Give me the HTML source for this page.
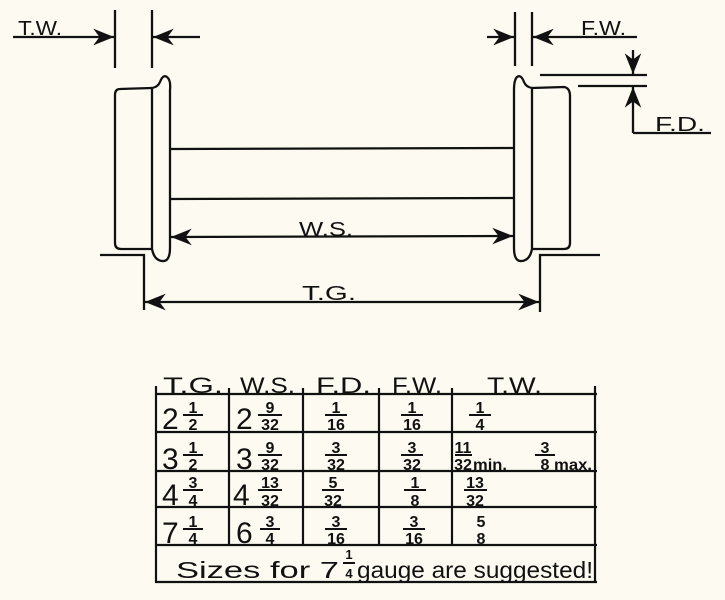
<!DOCTYPE html>
<html><head><meta charset="utf-8"><style>
html,body{margin:0;padding:0;background:#fdfbf1;}
svg{display:block}
text{font-family:"Liberation Sans",sans-serif;fill:#111}
</style></head><body>
<svg width="725" height="600" viewBox="0 0 725 600" xmlns="http://www.w3.org/2000/svg">
<defs>
<marker id="a" viewBox="0 0 10 10" refX="10" refY="5" markerWidth="9" markerHeight="9" orient="auto-start-reverse"><path d="M0,1 L10,5 L0,9 L3,5 Z" fill="#111"/></marker>
</defs>
<g stroke="#111" stroke-width="2.3" fill="none">
<path d="M152,88 L120,89 Q115,89 115,95 L115,243 Q115,249 121,249 L152,249"/>
<path d="M152,88 Q158,87 160,82 Q163,74 167,77 Q171,80 170,90 L170,248 Q170,262 162,261 Q154,260 152,249 Z"/>
<path d="M532,88 L564,87 Q570,88 570,96 L570,243 Q570,249 564,249 L532,249"/>
<path d="M532,88 Q526,87 524,82 Q521,74 517,77 Q514,80 514,90 L514,248 Q514,262 522,261 Q530,260 532,249 Z"/>
<line x1="170" y1="149" x2="514" y2="148"/>
<line x1="170" y1="199" x2="514" y2="198"/>
<line x1="115" y1="10" x2="115" y2="68"/>
<line x1="152" y1="10" x2="152" y2="68"/>
<line x1="13" y1="37" x2="114" y2="37" marker-end="url(#a)"/>
<line x1="200" y1="37" x2="153" y2="37" marker-end="url(#a)"/>
<line x1="515" y1="12" x2="515" y2="66"/>
<line x1="532" y1="12" x2="532" y2="66"/>
<line x1="487" y1="37" x2="514" y2="37" marker-end="url(#a)"/>
<line x1="637" y1="37" x2="533" y2="37" marker-end="url(#a)"/>
<line x1="540" y1="75" x2="647" y2="75"/>
<line x1="578" y1="86" x2="647" y2="86"/>
<line x1="633" y1="50" x2="633" y2="74" marker-end="url(#a)"/>
<line x1="633" y1="133" x2="633" y2="87" marker-end="url(#a)"/>
<line x1="633" y1="133" x2="711" y2="133"/>
<path d="M100,255 L144,255 L144,310"/>
<path d="M600,255 L540,255 L540,312"/>
<line x1="171" y1="237" x2="513" y2="236" marker-start="url(#a)" marker-end="url(#a)"/>
<line x1="145" y1="302" x2="539" y2="302" marker-start="url(#a)" marker-end="url(#a)"/>
</g>
<g font-size="20">
<text x="18" y="35" textLength="44" lengthAdjust="spacingAndGlyphs">T.W.</text>
<text x="581" y="35" textLength="45" lengthAdjust="spacingAndGlyphs">F.W.</text>
<text x="655" y="131" textLength="50" lengthAdjust="spacingAndGlyphs">F.D.</text>
<text x="299" y="236" textLength="54" lengthAdjust="spacingAndGlyphs">W.S.</text>
<text x="302" y="300" textLength="54" lengthAdjust="spacingAndGlyphs">T.G.</text>
</g>

<g stroke="#111" stroke-width="2.2" fill="none">
<line x1="155" y1="394" x2="597" y2="394"/>
<line x1="155" y1="432" x2="597" y2="432"/>
<line x1="155" y1="471" x2="597" y2="471"/>
<line x1="155" y1="507" x2="597" y2="507"/>
<line x1="155" y1="545" x2="597" y2="545"/>
<line x1="155" y1="582" x2="597" y2="582"/>
<line x1="156" y1="386" x2="156" y2="582"/>
<line x1="595" y1="386" x2="595" y2="582"/>
<line x1="229" y1="388" x2="229" y2="545"/>
<line x1="303" y1="388" x2="303" y2="545"/>
<line x1="379" y1="388" x2="379" y2="545"/>
<line x1="452" y1="388" x2="452" y2="545"/>
</g>
<g font-size="22">
<text x="163" y="393" textLength="60" lengthAdjust="spacingAndGlyphs">T.G.</text>
<text x="240" y="393" textLength="55" lengthAdjust="spacingAndGlyphs">W.S.</text>
<text x="316" y="393" textLength="55" lengthAdjust="spacingAndGlyphs">F.D.</text>
<text x="392" y="393" textLength="50" lengthAdjust="spacingAndGlyphs">F.W.</text>
<text x="487" y="393" textLength="55" lengthAdjust="spacingAndGlyphs">T.W.</text>
</g>
<g font-size="30">
<text x="162" y="429">2</text><text x="162" y="469">3</text><text x="162" y="505">4</text><text x="162" y="543">7</text>
<text x="236" y="429">2</text><text x="236" y="469">3</text><text x="233" y="505">4</text><text x="236" y="543">6</text>
</g>
<g font-size="16" text-anchor="middle" font-weight="bold">
<text x="193" y="413">1</text><text x="193" y="430">2</text>
<text x="193" y="453">1</text><text x="193" y="470">2</text>
<text x="193" y="488">3</text><text x="193" y="506">4</text>
<text x="193" y="527">1</text><text x="193" y="544">4</text>
<text x="270" y="413">9</text><text x="270" y="430">32</text>
<text x="270" y="453">9</text><text x="270" y="470">32</text>
<text x="270" y="488">13</text><text x="270" y="506">32</text>
<text x="270" y="527">3</text><text x="270" y="544">4</text>
<text x="336" y="413">1</text><text x="336" y="430">16</text>
<text x="336" y="453">3</text><text x="336" y="470">32</text>
<text x="333" y="488">5</text><text x="333" y="506">32</text>
<text x="336" y="527">3</text><text x="336" y="544">16</text>
<text x="412" y="413">1</text><text x="412" y="430">16</text>
<text x="412" y="453">3</text><text x="412" y="470">32</text>
<text x="415" y="488">1</text><text x="415" y="506">8</text>
<text x="414" y="527">3</text><text x="414" y="544">16</text>
<text x="480" y="413">1</text><text x="480" y="430">4</text>
<text x="463" y="453">11</text><text x="463" y="470">32</text>
<text x="545" y="453">3</text><text x="545" y="470">8</text>
<text x="475" y="488">13</text><text x="475" y="506">32</text>
<text x="481" y="527">5</text><text x="481" y="544">8</text>
</g>
<g font-size="16" font-weight="bold"><text x="473" y="470" textLength="34" lengthAdjust="spacingAndGlyphs">min.</text><text x="554" y="470" textLength="38" lengthAdjust="spacingAndGlyphs">max.</text></g>
<g stroke="#111" stroke-width="2">
<line x1="183" y1="415" x2="203" y2="415"/><line x1="183" y1="455" x2="203" y2="455"/><line x1="183" y1="490" x2="203" y2="490"/><line x1="183" y1="529" x2="203" y2="529"/>
<line x1="258" y1="415" x2="282" y2="415"/><line x1="258" y1="455" x2="282" y2="455"/><line x1="258" y1="490" x2="282" y2="490"/><line x1="260" y1="529" x2="280" y2="529"/>
<line x1="325" y1="415" x2="347" y2="415"/><line x1="325" y1="455" x2="347" y2="455"/><line x1="322" y1="490" x2="344" y2="490"/><line x1="325" y1="529" x2="347" y2="529"/>
<line x1="401" y1="415" x2="423" y2="415"/><line x1="401" y1="455" x2="423" y2="455"/><line x1="404" y1="490" x2="426" y2="490"/><line x1="403" y1="529" x2="425" y2="529"/>
<line x1="469" y1="415" x2="491" y2="415"/><line x1="455" y1="455" x2="472" y2="455"/><line x1="535" y1="455" x2="555" y2="455"/><line x1="464" y1="490" x2="487" y2="490"/>
<line x1="343" y1="563" x2="355" y2="563"/>
</g>
<text x="176" y="578" font-size="23" textLength="163" lengthAdjust="spacingAndGlyphs">Sizes for 7</text>
<text x="349" y="559" font-size="13" text-anchor="middle" font-weight="bold">1</text>
<text x="349" y="578" font-size="13" text-anchor="middle" font-weight="bold">4</text>
<text x="357" y="578" font-size="23" textLength="236" lengthAdjust="spacingAndGlyphs">gauge are suggested!</text>
</svg>
</body></html>
